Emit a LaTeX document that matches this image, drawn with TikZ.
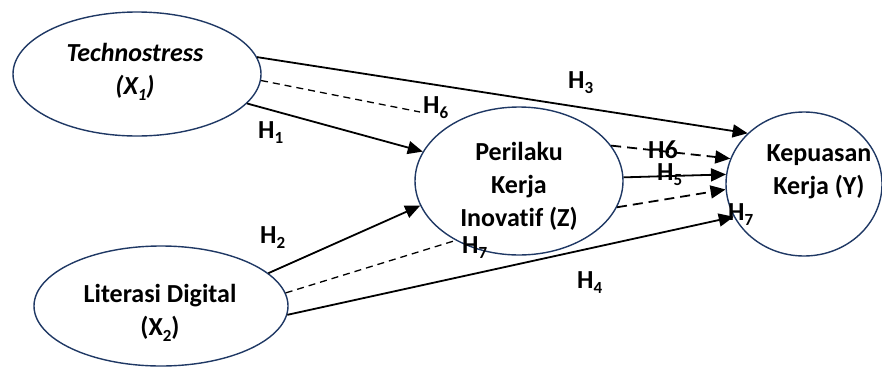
\documentclass[tikz,border=0pt]{standalone}
\usepackage{fontspec}
\setmainfont{Carlito}[Ligatures=NoCommon]
\usetikzlibrary{arrows.meta,shapes.geometric}
\definecolor{navy}{RGB}{31,56,100}
\newcommand\Hs[1]{H\raisebox{-0.22em}{\fontsize{17}{17}\selectfont #1}}
\newcommand\Sb[1]{\raisebox{-0.22em}{\fontsize{17}{17}\selectfont #1}}
\begin{document}
\begin{tikzpicture}[x=1pt,y=-1pt,
  lat/.style={draw=navy,line width=1.4pt,ellipse,inner sep=0pt},
  txt/.style={font=\fontsize{26}{33}\selectfont\bfseries,align=center,inner sep=0pt},
  hl/.style={font=\fontsize{26}{26}\selectfont\bfseries,inner sep=0pt,anchor=base west},
  arr/.style={line width=1.8pt,-{Triangle[length=15pt,width=13pt]}},
  dsh/.style={line width=1.3pt,dash pattern=on 7pt off 5pt},
  darr/.style={line width=1.8pt,dash pattern=on 10pt off 6pt,-{Triangle[length=15pt,width=13pt]}}]
\useasboundingbox (0,0) rectangle (882,367);
% latent variables
\node[lat,minimum width=248pt,minimum height=124pt] (x1) at (137,74) {};
\node[lat,minimum width=254pt,minimum height=120pt] (x2) at (161,306) {};
\node[lat,minimum width=208pt,minimum height=148pt] (z) at (519,181) {};
\node[lat,minimum width=156pt,minimum height=144pt] (y) at (804,184) {};
% texts
\node[txt] (tx1) at (135,72) {\itshape Technostress\\\itshape (X\Sb{1})};
\node[txt] (tx2) at (160,313) {Literasi Digital\\(X\Sb{2})};
\node[txt] (tz) at (519,186) {Perilaku\\Kerja\\Inovatif (Z)};
\node[txt] (ty) at (819,172) {Kepuasan\\Kerja (Y)};
% free ends
\coordinate (e6) at (420,112);
\coordinate (e7) at (457,240);
% connectors
\draw[arr] (x1.8) -- (y.138.8);
\draw[dsh] (x1.-3.7) -- (e6);
\draw[arr] (x1.-15.4) -- (z.163.9);
\draw[arr] (x2.17.1) -- (z.194);
\draw[dsh] (x2.6.1) -- (e7);
\draw[arr] (x2.-4.1) -- (y.205.6);
\draw[darr] (z.21.2) -- (y.161);
\draw[arr] (z.2.3) -- (y.173.3);
\draw[darr] (z.-15.4) -- (y.184.3);
% labels
\node[hl] (h3) at (568,88) {\Hs{3}};
\node[hl] (h4) at (577,288) {\Hs{4}};
\node[hl] (h1) at (258,138) {\Hs{1}};
\node[hl] (h2) at (260,243) {\Hs{2}};
\node[hl] (h6a) at (423,113) {\Hs{6}};
\node[hl] (h7a) at (462,253) {\Hs{7}};
\node[hl] (h6b) at (648,158) {H6};
\node[hl] (h5) at (657,180) {\Hs{5}};
\node[hl] (h7b) at (728,220) {\Hs{7}};
\end{tikzpicture}
\end{document}
